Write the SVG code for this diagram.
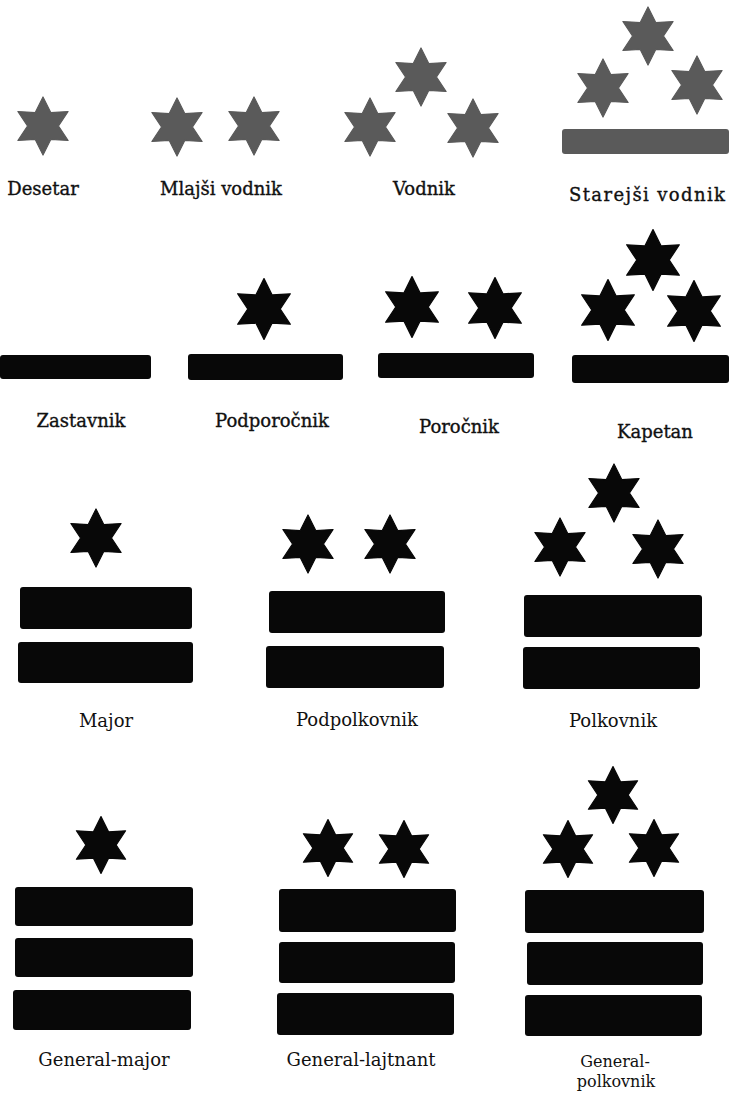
<svg xmlns="http://www.w3.org/2000/svg" xmlns:xlink="http://www.w3.org/1999/xlink" width="729" height="1097" viewBox="0 0 729 1097">
<style>
.lbl{font-family:"DejaVu Serif","Liberation Serif",serif;font-size:18px;fill:#111;text-anchor:middle}
.hv{stroke:#111;stroke-width:0.35}
.sm{font-size:16px}
.bar{fill:#080808}
.gbar{fill:#5a5a5a}
.s{fill:#080808;stroke:#080808;stroke-width:1.2;stroke-linejoin:round}
.gs{fill:#5a5a5a;stroke:#5a5a5a;stroke-width:1.2;stroke-linejoin:round}
</style>
<defs>
<path id="star" d="M0,-29 L7.75,-13.42 L25.11,-14.5 L15.5,0 L25.11,14.5 L7.75,13.42 L0,29 L-7.75,13.42 L-25.11,14.5 L-15.5,0 L-25.11,-14.5 L-7.75,-13.42 Z"/>
</defs>
<rect width="729" height="1097" fill="#fff"/>

<g id="desetar">
<use href="#star" class="gs" transform="translate(43,126)"/>
<text class="lbl hv" x="43" y="195">Desetar</text>
</g>
<g id="mlajsi-vodnik">
<use href="#star" class="gs" transform="translate(177,127)"/>
<use href="#star" class="gs" transform="translate(254,126)"/>
<text class="lbl hv" x="221" y="195">Mlajši vodnik</text>
</g>
<g id="vodnik">
<use href="#star" class="gs" transform="translate(421,77)"/>
<use href="#star" class="gs" transform="translate(370,127)"/>
<use href="#star" class="gs" transform="translate(473,128)"/>
<text class="lbl hv" x="424" y="195">Vodnik</text>
</g>
<g id="starejsi-vodnik">
<use href="#star" class="gs" transform="translate(648,36)"/>
<use href="#star" class="gs" transform="translate(603,88)"/>
<use href="#star" class="gs" transform="translate(697,85)"/>
<rect class="gbar" x="562" y="129" width="167" height="25" rx="3"/>
<text class="lbl hv" x="647" y="201" textLength="156" lengthAdjust="spacing">Starejši vodnik</text>
</g>

<g id="zastavnik">
<rect class="bar" x="0" y="355" width="151" height="24" rx="3"/>
<text class="lbl hv" x="81" y="427">Zastavnik</text>
</g>
<g id="podporocnik">
<use href="#star" class="s" transform="translate(264,309) scale(1.05)"/>
<rect class="bar" x="188" y="354" width="155" height="26" rx="3"/>
<text class="lbl hv" x="272" y="427">Podporočnik</text>
</g>
<g id="porocnik">
<use href="#star" class="s" transform="translate(412,307) scale(1.05)"/>
<use href="#star" class="s" transform="translate(495,308) scale(1.05)"/>
<rect class="bar" x="378" y="353" width="156" height="25" rx="3"/>
<text class="lbl hv" x="459" y="433">Poročnik</text>
</g>
<g id="kapetan">
<use href="#star" class="s" transform="translate(653,260) scale(1.05)"/>
<use href="#star" class="s" transform="translate(608,310) scale(1.05)"/>
<use href="#star" class="s" transform="translate(694,311) scale(1.05)"/>
<rect class="bar" x="572" y="355" width="157" height="28" rx="3"/>
<text class="lbl hv" x="655" y="438">Kapetan</text>
</g>

<g id="major">
<use href="#star" class="s" transform="translate(96,538)"/>
<rect class="bar" x="20" y="587" width="172" height="42" rx="3"/>
<rect class="bar" x="18" y="642" width="175" height="41" rx="3"/>
<text class="lbl" x="106" y="727">Major</text>
</g>
<g id="podpolkovnik">
<use href="#star" class="s" transform="translate(308,544)"/>
<use href="#star" class="s" transform="translate(390,544)"/>
<rect class="bar" x="269" y="591" width="176" height="42" rx="3"/>
<rect class="bar" x="266" y="646" width="178" height="42" rx="3"/>
<text class="lbl" x="357" y="726">Podpolkovnik</text>
</g>
<g id="polkovnik">
<use href="#star" class="s" transform="translate(614,493)"/>
<use href="#star" class="s" transform="translate(560,547)"/>
<use href="#star" class="s" transform="translate(658,549)"/>
<rect class="bar" x="524" y="595" width="178" height="42" rx="3"/>
<rect class="bar" x="523" y="647" width="177" height="42" rx="3"/>
<text class="lbl" x="613" y="727">Polkovnik</text>
</g>

<g id="general-major">
<use href="#star" class="s" transform="translate(101,845) scale(0.98)"/>
<rect class="bar" x="15" y="887" width="178" height="39" rx="3"/>
<rect class="bar" x="15" y="938" width="178" height="39" rx="3"/>
<rect class="bar" x="13" y="990" width="178" height="40" rx="3"/>
<text class="lbl" x="104" y="1066">General-major</text>
</g>
<g id="general-lajtnant">
<use href="#star" class="s" transform="translate(328,848) scale(0.98)"/>
<use href="#star" class="s" transform="translate(404,849) scale(0.98)"/>
<rect class="bar" x="279" y="889" width="177" height="43" rx="3"/>
<rect class="bar" x="279" y="942" width="176" height="41" rx="3"/>
<rect class="bar" x="277" y="993" width="177" height="42" rx="3"/>
<text class="lbl" x="361" y="1066">General-lajtnant</text>
</g>
<g id="general-polkovnik">
<use href="#star" class="s" transform="translate(613,795) scale(0.98)"/>
<use href="#star" class="s" transform="translate(568,849) scale(0.98)"/>
<use href="#star" class="s" transform="translate(654,848) scale(0.98)"/>
<rect class="bar" x="525" y="890" width="179" height="43" rx="3"/>
<rect class="bar" x="527" y="942" width="176" height="43" rx="3"/>
<rect class="bar" x="525" y="995" width="177" height="41" rx="3"/>
<text class="lbl sm" x="615" y="1067">General-</text>
<text class="lbl sm" x="616" y="1087">polkovnik</text>
</g>
<g id="connectors"/>
</svg>
